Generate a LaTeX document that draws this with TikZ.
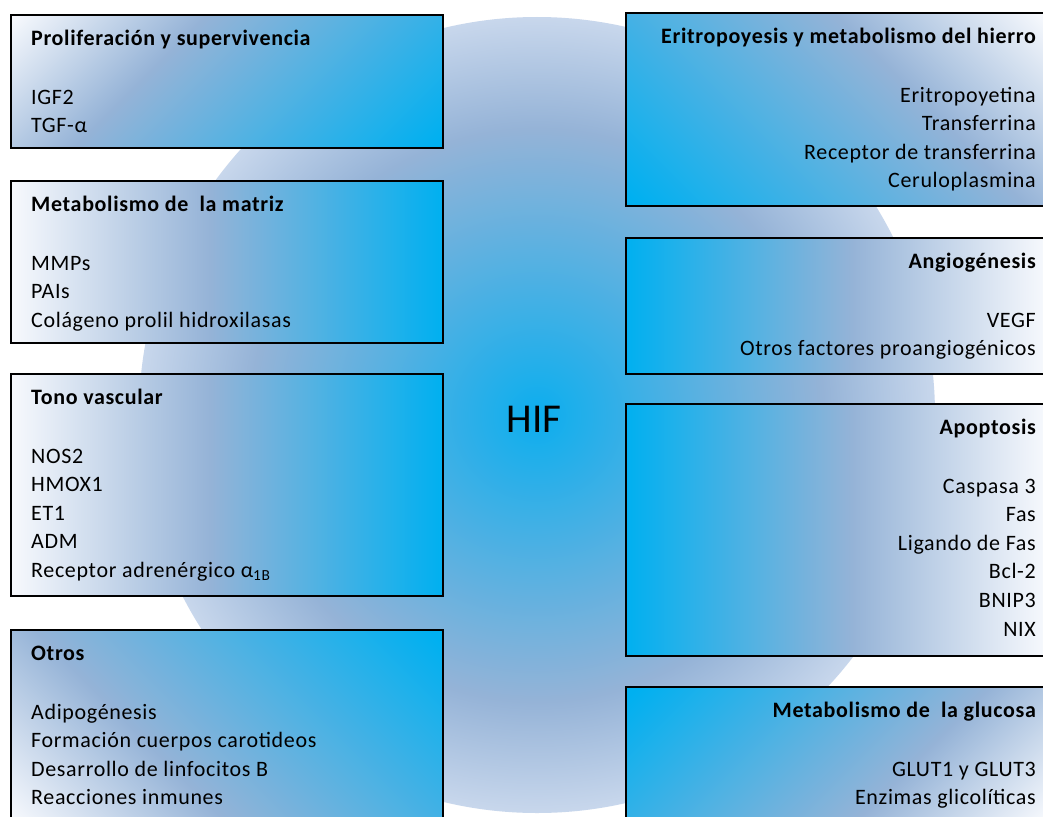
\documentclass[tikz,border=0pt]{standalone}
\usepackage{fontspec}
\setmainfont{Carlito}
\newfontfamily\lsfont[LetterSpace=3]{Carlito}
\usetikzlibrary{calc}
\definecolor{gcyan}{HTML}{00B0F0}
\definecolor{glav}{HTML}{95B3D7}
\definecolor{gwhite}{HTML}{F7F9FD}
\definecolor{cedge}{HTML}{C8D7EC}
\definecolor{ccenter}{HTML}{0CAEEE}
\pgfdeclarehorizontalshading{boxh}{100bp}{color(0bp)=(gwhite); color(25bp)=(gwhite); color(48bp)=(glav); color(75bp)=(gcyan); color(100bp)=(gcyan)}
\pgfdeclarehorizontalshading{boxd}{100bp}{color(0bp)=(gwhite); color(15bp)=(gwhite); color(39bp)=(glav); color(84bp)=(gcyan); color(100bp)=(gcyan)}
\pgfdeclareradialshading{hifsh}{\pgfpoint{0bp}{0bp}}{color(0bp)=(ccenter); color(18bp)=(glav); color(25bp)=(cedge); color(50bp)=(cedge)}
\tikzset{
  boxbase/.style={rectangle, draw=black, line width=2pt, shade, inner sep=0pt, outer sep=0pt, anchor=north west},
  ttl/.style={font=\lsfont\bfseries\fontsize{22}{26}\selectfont, inner sep=0pt},
  itm/.style={font=\lsfont\fontsize{22}{26}\selectfont, inner sep=0pt},
}
\begin{document}
\begin{tikzpicture}[x=1pt,y=-1pt]
\fill[white] (0,0) rectangle (1043,816);
\useasboundingbox (0,0) rectangle (1043,816);
% central circle
\node[circle, minimum size=796, inner sep=0pt, shade, shading=hifsh] (hifc) at (537,415) {};
\node[font=\fontsize{41}{48}\selectfont, inner sep=0pt, anchor=base] (hif) at (534,432) {HIF};
% left boxes
\node[boxbase, shading=boxd, shading angle=-45, minimum width=432, minimum height=133] (b1) at (11,15) {};
\node[boxbase, shading=boxh, shading angle=0, minimum width=432, minimum height=162] (b3) at (11,181) {};
\node[boxbase, shading=boxh, shading angle=0, minimum width=432, minimum height=222] (b4) at (11,374) {};
\node[boxbase, shading=boxd, shading angle=45, minimum width=432, minimum height=193] (b5) at (11,630) {};
% right boxes
\node[boxbase, shading=boxd, shading angle=-135, minimum width=420, minimum height=193] (b2) at (626,13) {};
\node[boxbase, shading=boxh, shading angle=180, minimum width=420, minimum height=136] (b6) at (626,238) {};
\node[boxbase, shading=boxh, shading angle=180, minimum width=420, minimum height=252] (b7) at (626,404) {};
\node[boxbase, shading=boxd, shading angle=135, minimum width=420, minimum height=136] (b8) at (626,687) {};
% left texts
\node[ttl, anchor=base west] (t1) at ($(b1.north west)+(20,30.5)$) {Proliferación y supervivencia};
\foreach \s [count=\i] in {IGF2, TGF-α}
  \node[itm, anchor=base west] (i1-\i) at ($(b1.north west)+(20,{89+28.6*(\i-1)})$) {\s};
\node[ttl, anchor=base west] (t3) at ($(b3.north west)+(20,30.5)$) {Metabolismo de\ \ la matriz};
\foreach \s [count=\i] in {MMPs, PAIs, Colágeno prolil hidroxilasas}
  \node[itm, anchor=base west] (i3-\i) at ($(b3.north west)+(20,{89+28.6*(\i-1)})$) {\s};
\node[ttl, anchor=base west] (t4) at ($(b4.north west)+(20,30.5)$) {Tono vascular};
\foreach \s [count=\i] in {NOS2, HMOX1, ET1, ADM, {Receptor adrenérgico α\textsubscript{1B}}}
  \node[itm, anchor=base west] (i4-\i) at ($(b4.north west)+(20,{89+28.6*(\i-1)})$) {\s};
\node[ttl, anchor=base west] (t5) at ($(b5.north west)+(20,30.5)$) {Otros};
\foreach \s [count=\i] in {Adipogénesis, Formación cuerpos carotideos, Desarrollo de linfocitos B, Reacciones inmunes}
  \node[itm, anchor=base west] (i5-\i) at ($(b5.north west)+(20,{89+28.6*(\i-1)})$) {\s};
% right texts
\node[ttl, anchor=base east] (t2) at ($(b2.north west)+(410,30.5)$) {Eritropoyesis y metabolismo del hierro};
\foreach \s [count=\i] in {Eritropoyetina, Transferrina, Receptor de transferrina, Ceruloplasmina}
  \node[itm, anchor=base east] (i2-\i) at ($(b2.north west)+(410,{89+28.6*(\i-1)})$) {\s};
\node[ttl, anchor=base east] (t6) at ($(b6.north west)+(410,30.5)$) {Angiogénesis};
\foreach \s [count=\i] in {VEGF, Otros factores proangiogénicos}
  \node[itm, anchor=base east] (i6-\i) at ($(b6.north west)+(410,{89+28.6*(\i-1)})$) {\s};
\node[ttl, anchor=base east] (t7) at ($(b7.north west)+(410,30.5)$) {Apoptosis};
\foreach \s [count=\i] in {Caspasa 3, Fas, Ligando de Fas, Bcl-2, BNIP3, NIX}
  \node[itm, anchor=base east] (i7-\i) at ($(b7.north west)+(410,{89+28.6*(\i-1)})$) {\s};
\node[ttl, anchor=base east] (t8) at ($(b8.north west)+(410,30.5)$) {Metabolismo de\ \ la glucosa};
\foreach \s [count=\i] in {GLUT1 y GLUT3, Enzimas glicolíticas}
  \node[itm, anchor=base east] (i8-\i) at ($(b8.north west)+(410,{89+28.6*(\i-1)})$) {\s};
\end{tikzpicture}
\end{document}
